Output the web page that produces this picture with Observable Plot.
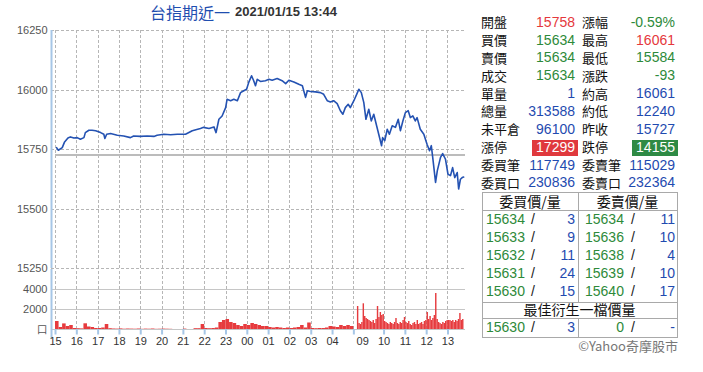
<!DOCTYPE html>
<html><head><meta charset="utf-8">
<script src="https://cdn.jsdelivr.net/npm/d3@7"></script>
<script src="https://cdn.jsdelivr.net/npm/@observablehq/plot@0.6"></script>
<style>
body{margin:0;background:#fff;width:703px;height:372px;position:relative;overflow:hidden;font-family:"Liberation Sans",Arial,sans-serif;}
.abs{position:absolute;white-space:nowrap;line-height:14px;}
.cjk{font-family:"Noto Sans CJK TC","Noto Sans",sans-serif;}
#price,#vol{position:absolute;left:0;width:470px;}
#price{top:0;} #vol{top:268px;}
#price svg,#vol svg{max-width:none;}
</style></head><body>
<div class="abs cjk" style="left:150px;top:4px;font-size:16px;line-height:16px;color:#1f4eb0;">台指期近一</div>
<div class="abs" style="left:235px;top:5px;font-size:13px;font-weight:bold;color:#333;">2021/01/15 13:44</div>
<div id="price"></div>
<div id="vol"></div>
<div id="panel"></div>
<script>
// ---------- DATA ----------
const prevClose = 15727;
const priceTicks = [15250, 15500, 15750, 16000, 16250];
const volTicks = [0, 2000, 4000];
const volZeroLabel = "口";
const hourLabels = ["15","16","17","18","19","20","21","22","23","00","01","02","03","04","09","10","11","12","13"];

const nightTimes = ["15:03","15:08","15:19","15:25","15:35","15:42","15:52","16:01","16:10","16:20","16:24","16:34","16:43","16:53","17:07","17:16","17:19","17:24","17:35","17:54","18:12","18:31","18:40","18:59","19:18","19:37","19:46","20:05","20:24","20:43","21:01","21:06","21:25","21:48","21:57","22:12","22:26","22:32","22:40","22:49","22:59","23:03","23:13","23:22","23:32","23:41","23:50","23:58","00:04","00:12","00:18","00:23","00:28","00:37","00:51","01:01","01:10","01:24","01:38","01:48","01:57","02:11","02:25","02:35","02:44","02:49","02:58","03:12","03:26","03:35","03:45","03:54","04:03","04:13","04:22","04:29","04:36","04:44","04:50","05:00"];
const nightPrices = [15758,15747,15758,15780,15798,15803,15798,15800,15793,15800,15821,15831,15831,15829,15821,15814,15796,15814,15817,15810,15807,15800,15807,15805,15807,15805,15810,15814,15812,15814,15814,15814,15829,15838,15843,15838,15845,15821,15877,15891,15926,15961,15955,15961,15955,15989,15997,16003,16032,16060,16039,16018,16045,16036,16039,16045,16041,16048,16039,16027,16041,16034,16024,16018,15969,15997,15994,15992,15989,15982,15955,15950,15955,15943,15913,15898,15926,15940,15926,15955];
const dayTimes = ["08:45","08:49","08:56","09:03","09:09","09:17","09:24","09:31","09:38","09:45","09:53","09:56","10:02","10:09","10:15","10:23","10:32","10:40","10:46","10:53","11:00","11:08","11:14","11:21","11:28","11:33","11:42","11:52","12:01","12:08","12:13","12:17","12:25","12:30","12:39","12:45","12:53","13:00","13:07","13:13","13:19","13:26","13:30","13:35","13:40","13:44"];
const dayPrices = [15989,16003,15989,15947,15877,15919,15870,15898,15856,15814,15766,15800,15787,15835,15814,15850,15843,15877,15829,15870,15905,15913,15884,15891,15870,15884,15835,15814,15772,15745,15766,15717,15612,15661,15717,15733,15709,15646,15640,15674,15632,15653,15584,15625,15632,15634];

// volume: night session every 10 minutes from 15:00, day session every 4 minutes from 08:45
const volNightStart = "15:00", volNightStep = 10;
const volNight = [800,200,560,300,400,100,80,60,570,250,200,100,100,150,500,80,50,40,60,30,50,40,30,50,20,40,30,50,20,30,40,30,20,0,0,0,40,0,0,80,80,500,100,80,100,150,700,900,1000,700,600,400,300,500,400,600,500,400,300,300,200,150,200,150,100,150,100,150,200,400,150,650,100,80,100,100,150,300,250,200,400,300,400,300];
const volDayStart = "08:45", volDayStep = 4;
const volDay = [2300,600,500,700,2570,1300,1100,1000,900,800,700,900,600,1000,2300,1200,1700,1400,1500,800,700,600,500,700,600,500,700,1100,600,500,700,600,900,1200,700,600,800,500,400,600,700,500,900,500,600,700,500,800,900,1700,1000,1300,900,1100,1400,3600,1000,700,600,500,700,600,800,900,900,900,800,900,700,900,800,1000,1600,900,1000];

// quote panel
const quoteLeftLabels = ["開盤","買價","賣價","成交","單量","總量","未平倉","漲停","委買筆","委買口"];
const quoteLeftValues = ["15758","15634","15634","15634","1","313588","96100","17299","117749","230836"];
const quoteLeftKinds  = ["up","down","down","down","n","n","n","upbox","n","n"];
const quoteRightLabels = ["漲幅","最高","最低","漲跌","約高","約低","昨收","跌停","委賣筆","委賣口"];
const quoteRightValues = ["-0.59%","16061","15584","-93","16061","12240","15727","14155","115029","232364"];
const quoteRightKinds  = ["down","up","down","down","n","n","n","downbox","n","n"];
const bookHeaders = ["委買價/量","委賣價/量"];
const bidPrices = [15634,15633,15632,15631,15630];
const bidQty = [3,9,11,24,15];
const askPrices = [15634,15636,15638,15639,15640];
const askQty = [11,10,4,10,17];
const bestTitle = "最佳衍生一檔價量";
const bestBid = ["15630","3"];
const bestAsk = ["0","-"];
const credit = "©Yahoo奇摩股市";

// ---------- helpers ----------
const mins = s => { const [h, m] = s.split(":").map(Number); return h * 60 + m; };
const tNight = s => { let v = mins(s) - 900; if (v < 0) v += 1440; return v; };
const tDay = s => 850 + mins(s) - 525;
const labelT = [0,60,120,180,240,300,360,420,480,540,600,660,720,780,865,925,985,1045,1105];
const gridT  = [0,60,120,180,240,300,360,420,480,540,600,660,720,780,840,925,985,1045,1105];
const xDomain = [-11.3, 1154.3];
const pDomain = [15250, 16250];
const vDomain = [0, 6000];

const priceData = [
  ...nightTimes.map((s, i) => ({t: tNight(s), p: nightPrices[i]})),
  ...dayTimes.map((s, i) => ({t: tDay(s), p: dayPrices[i]}))
];
const volData = [
  ...volNight.map((v, i) => ({t1: tNight(volNightStart) + i * volNightStep, t2: tNight(volNightStart) + (i + 1) * volNightStep, v})),
  ...volDay.map((v, i) => ({t1: tDay(volDayStart) + i * volDayStep, t2: tDay(volDayStart) + (i + 1) * volDayStep, v}))
];

const BLUE_AXIS = "#a6c6e6", GRID = "#b6b6b6";
const crisp = {shapeRendering: "crispEdges"};
const style = {fontFamily: "'Liberation Sans', Arial, sans-serif", fontSize: "11px", background: "transparent", overflow: "visible"};

const priceChart = Plot.plot({
  width: 470, height: 272, marginLeft: 51, marginRight: 5, marginTop: 30, marginBottom: 4,
  style,
  x: {domain: xDomain, axis: null},
  y: {domain: pDomain, axis: null},
  marks: [
    Plot.ruleY(priceTicks, {y: d => d, x1: xDomain[0], x2: xDomain[1], stroke: GRID, strokeWidth: 1, strokeDasharray: "3,2", ...crisp}),
    Plot.ruleX(gridT, {x: d => d, y1: pDomain[0], y2: pDomain[1], stroke: GRID, strokeWidth: 1, strokeDasharray: "3,2", ...crisp}),
    Plot.ruleY([prevClose], {x1: 0, x2: xDomain[1], stroke: "#bcbcbc", strokeWidth: 2}),
    Plot.ruleX([xDomain[0]], {y1: pDomain[0], y2: pDomain[1], stroke: BLUE_AXIS, strokeWidth: 2}),
    Plot.axisY(priceTicks, {anchor: "left", label: null, tickSize: 0, tickPadding: 4, color: "#555", fontSize: 11, tickFormat: d => String(d)}),
    Plot.line(priceData, {x: "t", y: "p", stroke: "#2452b2", strokeWidth: 1.6})
  ]
});
document.getElementById("price").appendChild(priceChart);

const volChart = Plot.plot({
  width: 470, height: 82, marginLeft: 51, marginRight: 5, marginTop: 1, marginBottom: 21,
  style,
  x: {domain: xDomain, axis: null},
  y: {domain: vDomain, axis: null},
  marks: [
    Plot.ruleX(gridT, {x: d => d, y1: vDomain[0], y2: vDomain[1], stroke: GRID, strokeWidth: 1, strokeDasharray: "3,2", ...crisp}),
    Plot.ruleY([2000, 4000], {y: d => d, x1: xDomain[0], x2: xDomain[1], stroke: "#c6c6c6", strokeWidth: 1, ...crisp}),
    Plot.ruleY([0], {x1: xDomain[0], x2: xDomain[1], stroke: "#c6c6c6", strokeWidth: 1, ...crisp}),
    Plot.rectY(volData, {x1: "t1", x2: "t2", y: "v", fill: "#e63b3e"}),
    Plot.ruleX([xDomain[0]], {y1: -900, y2: vDomain[1], stroke: BLUE_AXIS, strokeWidth: 2}),
    Plot.ruleX(gridT, {x: d => d, y1: 0, y2: -550, stroke: BLUE_AXIS, strokeWidth: 2}),
    Plot.axisY(volTicks, {anchor: "left", label: null, tickSize: 0, tickPadding: 4, color: "#555", fontSize: 11,
      tickFormat: d => d === 0 ? volZeroLabel : String(d)}),
    Plot.axisX(labelT, {anchor: "bottom", label: null, tickSize: 0, tickPadding: 8, color: "#333", fontSize: 11,
      tickFormat: d => hourLabels[labelT.indexOf(d)]})
  ]
});
document.getElementById("vol").appendChild(volChart);

// ---------- quote panel (HTML) ----------
const panel = document.getElementById("panel");
const COLORS = {up: "#e5383c", down: "#2d8a3a", n: "#1f4bb0"};
function addText(txt, x, yc, opts = {}) {
  const d = document.createElement("div");
  d.className = "abs" + (opts.cjk ? " cjk" : "");
  d.textContent = txt;
  const fs = opts.fs || (opts.cjk ? 13 : 14);
  d.style.fontSize = fs + "px";
  d.style.lineHeight = fs + "px";
  d.style.top = (yc - fs / 2 - 1) + "px";
  d.style.color = opts.color || "#111";
  if (opts.align === "right") { d.style.right = (703 - x) + "px"; d.style.textAlign = "right"; }
  else if (opts.align === "center") { d.style.left = (x - 100) + "px"; d.style.width = "200px"; d.style.textAlign = "center"; }
  else d.style.left = x + "px";
  panel.appendChild(d);
  return d;
}
function addBox(x, y, w, h, color) {
  const d = document.createElement("div");
  d.style.cssText = `position:absolute;left:${x}px;top:${y}px;width:${w}px;height:${h}px;background:${color};`;
  panel.appendChild(d);
}
function addLine(x, y, w, h) {
  const d = document.createElement("div");
  d.style.cssText = `position:absolute;left:${x}px;top:${y}px;width:${w}px;height:${h}px;background:#a9a9a9;`;
  panel.appendChild(d);
}
const rowY = i => 22.7 + i * 17.85;
quoteLeftLabels.forEach((lab, i) => {
  const y = rowY(i);
  addText(lab, 481, y, {cjk: true});
  const k = quoteLeftKinds[i];
  if (k === "upbox") { addBox(532, y - 8, 46, 16, "#e0393d"); addText(quoteLeftValues[i], 575, y, {align: "right", color: "#fff"}); }
  else addText(quoteLeftValues[i], 575, y, {align: "right", color: COLORS[k]});
  addText(quoteRightLabels[i], 582, y, {cjk: true});
  const k2 = quoteRightKinds[i];
  if (k2 === "downbox") { addBox(632, y - 8, 46, 16, "#2e8a44"); addText(quoteRightValues[i], 675, y, {align: "right", color: "#fff"}); }
  else addText(quoteRightValues[i], 675, y, {align: "right", color: COLORS[k2]});
});
// order book frame
const L = 482, R = 677, T = 192, M = 578;
addLine(L, T, R - L, 1); addLine(L, 210, R - L, 1); addLine(L, 302, R - L, 1); addLine(L, 318, R - L, 1); addLine(L, 337, R - L + 1, 1);
addLine(L, T, 1, 337 - T); addLine(R, T, 1, 337 - T);
addLine(M, T, 1, 302 - T); addLine(M, 318, 1, 337 - 318);
addText(bookHeaders[0], (L + M) / 2, 201.5, {cjk: true, align: "center", fs: 14});
addText(bookHeaders[1], (M + R) / 2, 201.5, {cjk: true, align: "center", fs: 14});
bidPrices.forEach((p, i) => {
  const y = 219.5 + i * 18.1;
  addText(String(p), 486, y, {color: COLORS.down});
  addText("/", 531, y, {color: "#222"});
  addText(String(bidQty[i]), 575, y, {align: "right", color: COLORS.n});
  addText(String(askPrices[i]), 585, y, {color: COLORS.down});
  addText("/", 631, y, {color: "#222"});
  addText(String(askQty[i]), 675, y, {align: "right", color: COLORS.n});
});
addText(bestTitle, (L + R) / 2, 310, {cjk: true, align: "center", fs: 14});
addText(bestBid[0], 486, 327.5, {color: COLORS.down});
addText("/", 531, 327.5, {color: "#222"});
addText(bestBid[1], 575, 327.5, {align: "right", color: COLORS.n});
addText(bestAsk[0], 624, 327.5, {align: "right", color: COLORS.down});
addText("/", 631, 327.5, {color: "#222"});
addText(bestAsk[1], 675, 327.5, {align: "right", color: COLORS.n});
addText(credit, 678, 346, {cjk: true, align: "right", color: "#777", fs: 13});
</script>
</body></html>
